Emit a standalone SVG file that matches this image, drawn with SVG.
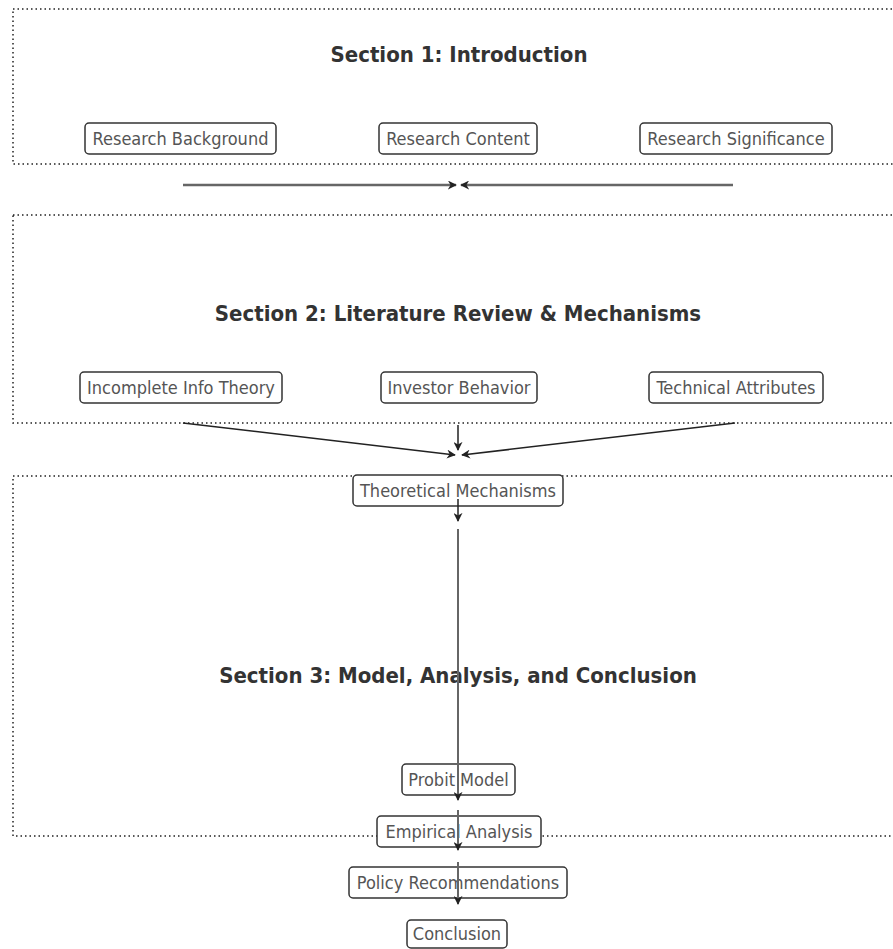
<svg xmlns="http://www.w3.org/2000/svg" width="893" height="949" viewBox="0 0 893 949">
<defs>
<marker id="ah2" viewBox="0 0 10 10" refX="9" refY="5" markerWidth="9" markerHeight="9" orient="auto" markerUnits="userSpaceOnUse">
<path d="M0,0 L10,5 L0,10 L3,5 z" fill="#222"/>
</marker>
<style>
.cl{fill:none;stroke:#222;stroke-width:1.5;stroke-dasharray:1.5 3}
.ct{font-family:"DejaVu Sans Condensed","DejaVu Sans",sans-serif;font-weight:bold;font-size:22px;fill:#333;text-anchor:middle}
.nb{fill:#fff;stroke:#333;stroke-width:1.5}
.nt{font-family:"DejaVu Sans Condensed","DejaVu Sans",sans-serif;font-size:18px;fill:#555;text-anchor:middle}
.eg{fill:none;stroke:#666;stroke-width:2.5}
.ek{fill:none;stroke:#222;stroke-width:1.5}
</style>
</defs>
<g id="clusters">
<rect id="cluster1" class="cl" x="13" y="9" width="900" height="155"/>
<rect id="cluster2" class="cl" x="13" y="215" width="900" height="208"/>
<rect id="cluster3" class="cl" x="13" y="476" width="900" height="360"/>
<text class="ct" x="459" y="62">Section 1: Introduction</text>
<text class="ct" x="458" y="321">Section 2: Literature Review &amp; Mechanisms</text>
<text class="ct" x="458" y="683">Section 3: Model, Analysis, and Conclusion</text>
</g>
<g id="edges">
<line class="eg" x1="183" y1="185" x2="456" y2="185" marker-end="url(#ah2)"/>
<line class="eg" x1="733" y1="185" x2="461" y2="185" marker-end="url(#ah2)"/>
<line class="ek" x1="183" y1="423" x2="455" y2="455" marker-end="url(#ah2)"/>
<line class="ek" x1="458" y1="425" x2="458" y2="450" marker-end="url(#ah2)"/>
<line class="ek" x1="735" y1="423" x2="462" y2="455" marker-end="url(#ah2)"/>
</g>
<g id="n_bg"><rect class="nb" x="85" y="123" width="191" height="31" rx="4"/><text class="nt" x="180.5" y="145">Research Background</text></g>
<g id="n_rc"><rect class="nb" x="379" y="123" width="158" height="31" rx="4"/><text class="nt" x="458" y="145">Research Content</text></g>
<g id="n_rs"><rect class="nb" x="640" y="123" width="192" height="31" rx="4"/><text class="nt" x="736" y="145">Research Significance</text></g>
<g id="n_it"><rect class="nb" x="80" y="372" width="202" height="31" rx="4"/><text class="nt" x="181" y="394">Incomplete Info Theory</text></g>
<g id="n_ib"><rect class="nb" x="381" y="372" width="156" height="31" rx="4"/><text class="nt" x="459" y="394">Investor Behavior</text></g>
<g id="n_ta"><rect class="nb" x="649" y="372" width="174" height="31" rx="4"/><text class="nt" x="736" y="394">Technical Attributes</text></g>
<g id="n_tm"><rect class="nb" x="353" y="475" width="210" height="31" rx="4"/><text class="nt" x="458" y="497">Theoretical Mechanisms</text></g>
<g id="n_pm"><rect class="nb" x="402" y="764" width="113" height="31" rx="4"/><text class="nt" x="458.5" y="786">Probit Model</text></g>
<g id="n_ea"><rect class="nb" x="377" y="816" width="164" height="31" rx="4"/><text class="nt" x="459" y="838">Empirical Analysis</text></g>
<g id="n_pr"><rect class="nb" x="349" y="867" width="218" height="31" rx="4"/><text class="nt" x="458" y="889">Policy Recommendations</text></g>
<g id="n_co"><rect class="nb" x="407" y="920" width="100" height="28" rx="4"/><text class="nt" x="457" y="940">Conclusion</text></g>
<g id="edges2">
<line class="ek" x1="458" y1="499" x2="458" y2="521" marker-end="url(#ah2)"/>
<line class="eg" x1="458" y1="529" x2="458" y2="800" marker-end="url(#ah2)" style="stroke-width:2"/>
<line class="eg" x1="458" y1="810" x2="458" y2="850" marker-end="url(#ah2)" style="stroke-width:2"/>
<line class="eg" x1="458" y1="862" x2="458" y2="904" marker-end="url(#ah2)" style="stroke-width:2"/>
</g>
</svg>
